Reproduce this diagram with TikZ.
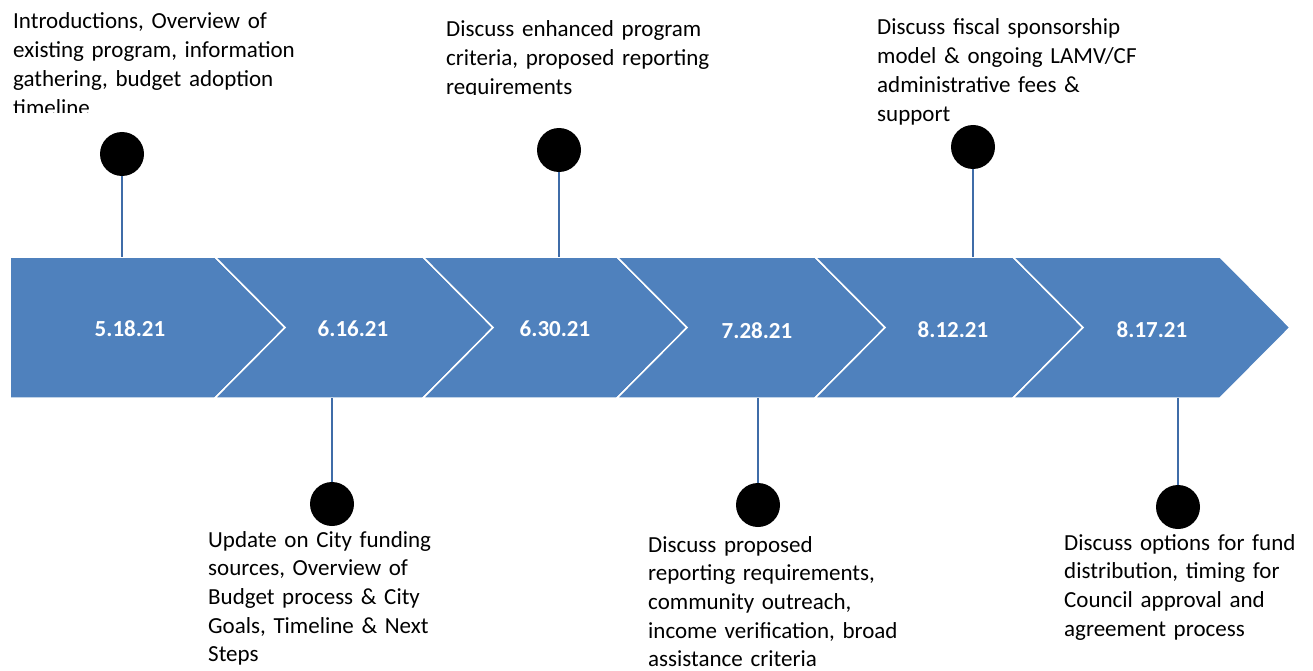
\documentclass[tikz,border=0pt]{standalone}
\usepackage{fontspec}
\setmainfont{Carlito}
\definecolor{chevblue}{HTML}{4F81BD}
\definecolor{stemblue}{HTML}{3F6CA8}

\begin{document}
\begin{tikzpicture}[
        x=1pt, y=-1pt,
        chevron/.style={fill=chevblue, draw=white, line width=1.5pt, line join=miter},
        datelabel/.style={text=white, inner sep=0pt, font=\fontsize{23}{28}\selectfont\bfseries},
        milestone/.style={circle, fill=black, minimum size=44pt, inner sep=0pt},
        stemline/.style={draw=stemblue, line width=1.8pt},
        notetext/.style={anchor=base west, align=left, inner sep=0pt, text width=330pt, font=\fontsize{23}{28.7}\selectfont}
    ]
    \clip (0,0) rectangle (1313,671);
    \fill[white] (0,0) rectangle (1313,671);

    \path[chevron] (10,257) -- (215,257) -- (285,327.5) -- (215,398) -- (10,398) -- cycle;
    \foreach \l/\r in {215/423, 423/617, 617/815, 815/1013, 1013/1220}
        \path[chevron] (\l,257) -- (\r,257) -- (\r+70,327.5) -- (\r,398) -- (\l,398) -- (\l+70,327.5) -- cycle;

    \node[datelabel] (d1) at (130,329) {5.18.21};
    \node[datelabel] (d2) at (353,329) {6.16.21};
    \node[datelabel] (d3) at (555,329) {6.30.21};
    \node[datelabel] (d4) at (757,331) {7.28.21};
    \node[datelabel] (d5) at (953,330) {8.12.21};
    \node[datelabel] (d6) at (1152,330) {8.17.21};

    \node[milestone] (m1) at (122,154) {};
    \node[milestone] (m2) at (332,504) {};
    \node[milestone] (m3) at (559,150) {};
    \node[milestone] (m4) at (758,505) {};
    \node[milestone] (m5) at (973,147) {};
    \node[milestone] (m6) at (1178,507) {};

    \coordinate (e1) at (122,257);
    \coordinate (e2) at (332,398);
    \coordinate (e3) at (559,257);
    \coordinate (e4) at (758,398);
    \coordinate (e5) at (973,257);
    \coordinate (e6) at (1178,398);

    \draw[stemline] (m1) -- (e1);
    \draw[stemline] (m2) -- (e2);
    \draw[stemline] (m3) -- (e3);
    \draw[stemline] (m4) -- (e4);
    \draw[stemline] (m5) -- (e5);
    \draw[stemline] (m6) -- (e6);

    \begin{scope}
        \clip (0,0) rectangle (420,113);
        \node[notetext] (n1) at (13,29) {Introductions, Overview of\\existing program, information\\gathering, budget adoption\\timeline};
    \end{scope}
    \begin{scope}
        \clip (430,0) rectangle (860,95);
        \node[notetext] (n3) at (446,37) {Discuss enhanced program\\criteria, proposed reporting\\requirements};
    \end{scope}
    \node[notetext] (n5) at (877,35) {Discuss fiscal sponsorship\\model \& ongoing LAMV/CF\\administrative fees \&\\support};

    \node[notetext] (n2) at (208,547) {Update on City funding\\sources, Overview of\\Budget process \& City\\Goals, Timeline \& Next\\Steps};
    \node[notetext] (n4) at (648,552) {Discuss proposed\\reporting requirements,\\community outreach,\\income verification, broad\\assistance criteria};
    \node[notetext] (n6) at (1064,550) {Discuss options for fund\\distribution, timing for\\Council approval and\\agreement process};
\end{tikzpicture}
\end{document}
